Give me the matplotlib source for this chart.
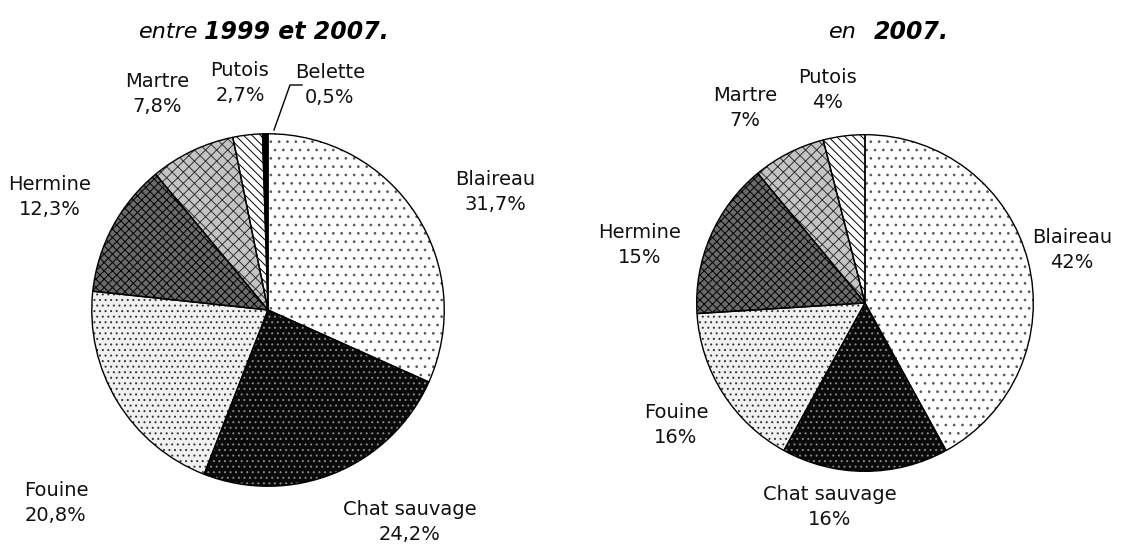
import matplotlib.pyplot as plt

# donnees
lstNomsAvant = ['Blaireau', 'Chat sauvage', 'Fouine', 'Hermine', 'Martre', 'Putois', 'Belette']
lstPctAvant = [31.7, 24.2, 20.8, 12.3, 7.8, 2.7, 0.5]

lstNomsApres = ['Blaireau', 'Chat sauvage', 'Fouine', 'Hermine', 'Martre', 'Putois']
lstPctApres = [42, 16, 16, 15, 7, 4]

W, H = 1131, 549

# style de remplissage par espece (fond, hachure, couleur hachure)
dctStyle = {
    'Blaireau': ('white', '..', '#555555'),
    'Chat sauvage': ('#0a0a0a', '...', '#8a8a8a'),
    'Fouine': ('#f0f0f0', '...', '#333333'),
    'Hermine': ('#6a6a6a', 'xxxx', 'black'),
    'Martre': ('#c4c4c4', 'xxx', '#333333'),
    'Putois': ('white', '\\\\\\\\', 'black'),
    'Belette': ('black', None, 'black'),
}

plt.rcParams['font.family'] = ['DejaVu Sans']
plt.rcParams['hatch.linewidth'] = 0.7

fig = plt.figure(figsize=(W / 100, H / 100), dpi=100)


def fnPie(cx, cy, r, lstNoms, lstPct):
    ax = fig.add_axes([(cx - r) / W, (H - cy - r) / H, 2 * r / W, 2 * r / H])
    # remplissage + hachures
    wedges, _ = ax.pie(lstPct, startangle=90, counterclock=False, radius=1,
                       wedgeprops=dict(linewidth=0))
    for w, strNom in zip(wedges, lstNoms):
        fc, hatch, hc = dctStyle[strNom]
        w.set_facecolor(fc)
        w.set_edgecolor(hc)
        w.set_linewidth(0)
        if hatch:
            w.set_hatch(hatch)
    # contours
    ax.pie(lstPct, startangle=90, counterclock=False, radius=1,
           wedgeprops=dict(fill=False, edgecolor='black', linewidth=1.0))
    ax.set_xlim(-1.01, 1.01)
    ax.set_ylim(-1.01, 1.01)
    ax.axis('off')
    return ax


def fnLabel(x, y, strNom, strPct):
    fig.text(x / W, 1 - y / H, strNom + '\n' + strPct, ha='center', va='center',
             fontsize=14, linespacing=1.35, color='#111111')


fnPie(268, 310, 178, lstNomsAvant, lstPctAvant)
fnPie(865, 303, 170, lstNomsApres, lstPctApres)

# etiquettes gauche
lstPosAvant = [(495, 192), (410, 522), (56, 503), (50, 197), (157, 94), (240, 83), (330, 85)]
for (x, y), strNom, v in zip(lstPosAvant, lstNomsAvant, lstPctAvant):
    fnLabel(x, y, strNom, ('%.1f' % v).replace('.', ',') + '%')

# etiquettes droite
lstPosApres = [(1072, 250), (830, 507), (676, 425), (640, 245), (745, 108), (828, 90)]
for (x, y), strNom, v in zip(lstPosApres, lstNomsApres, lstPctApres):
    fnLabel(x, y, strNom, '%d%%' % v)

# trait de rappel Belette
fig.add_artist(plt.Line2D([274 / W, 290 / W, 302 / W],
                          [1 - 130 / H, 1 - 85 / H, 1 - 85 / H],
                          color='black', linewidth=1.0))

# titres
fig.text(198 / W, 1 - 32 / H, 'entre', ha='right', va='center', fontsize=16, style='italic')
fig.text(204 / W, 1 - 32 / H, '1999 et 2007.', ha='left', va='center', fontsize=17,
         style='italic', weight='bold')
fig.text(857 / W, 1 - 32 / H, 'en', ha='right', va='center', fontsize=16, style='italic')
fig.text(874 / W, 1 - 32 / H, '2007.', ha='left', va='center', fontsize=17,
         style='italic', weight='bold')

fig.savefig('out.png', dpi=100)
